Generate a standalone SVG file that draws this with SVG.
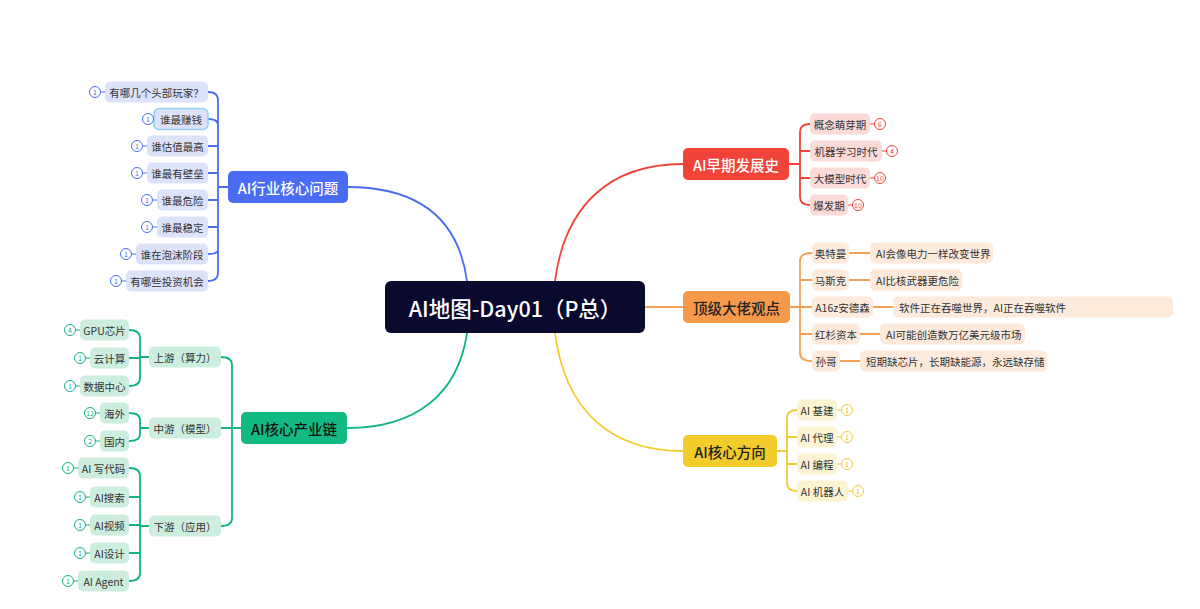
<svg xmlns="http://www.w3.org/2000/svg" width="1200" height="609" viewBox="0 0 1200 609">
<style>
text{font-family:"Noto Sans CJK SC","Liberation Sans",sans-serif;dominant-baseline:central}
.t{font-size:10.5px;fill:#333}
.m{font-size:14.5px;text-anchor:middle;font-weight:500}
.c{text-anchor:middle}
.l{fill:none;stroke-width:1.8;stroke-linecap:round}
.bl{stroke:#4a6cf5}.rd{stroke:#ee4439}.or{stroke:#f6a055}.ye{stroke:#f0cd35}.gr{stroke:#14b57e}
.bf{fill:#dde2fb}.rf{fill:#fcdad8}.of{fill:#fdeadb}.yf{fill:#fcf3d3}.gf{fill:#cdeedf}
.bd{fill:#fff;stroke-width:1}
.bn{font-size:7px;text-anchor:middle}
</style>
<rect width="1200" height="609" fill="#fff"/>
<g id="connectors">
<path class="l bl" d="M467,281 C458,215 415,187 347,187"/>
<path class="l rd" d="M555,281 C565,205 610,164 683,164"/>
<path class="l or" d="M645,307 H683"/>
<path class="l ye" d="M555,333 C565,410 610,451 683,451"/>
<path class="l gr" d="M467,333 C458,395 415,428 347,428"/>
<path class="l bl" d="M228,187 H218 M208,92 Q218,92 218,100 V273 Q218,281 208,281 M208,119 Q218,119 218,125 M208,146 H218 M208,173 H218 M208,200 H218 M208,227 H218 M208,254 Q218,254 218,250"/>
<path class="l rd" d="M789,164 H800 M810,124 Q800,124 800,132 V197 Q800,205 810,205 M810,151 H800 M810,178 H800"/>
<path class="l or" d="M790,307 H800 M812,253 Q800,253 800,261 V353 Q800,361 812,361 M812,280 H800 M812,307 H800 M812,334 H800"/>
<path class="l or" d="M849,253 H870 M849,280 H870 M873,307 H893 M860,334 H880 M840,361 H860"/>
<path class="l ye" d="M777,451 H787 M797,410 Q787,410 787,418 V483 Q787,491 797,491 M797,437 H787 M797,464 H787"/>
<path class="l gr" d="M241,428 H232 M221,357 Q232,357 232,365 V518 Q232,526 221,526 M221,428 H232"/>
<path class="l gr" d="M149,357 H140 M129,330 Q140,330 140,338 V378 Q140,386 129,386 M129,358 H140"/>
<path class="l gr" d="M149,428 H140 M129,413 Q140,413 140,420 V434 Q140,441 129,441"/>
<path class="l gr" d="M149,526 H140 M129,468 Q140,468 140,476 V573 Q140,581 129,581 M129,497 H140 M129,525 H140 M129,553 H140"/>
</g>
<g id="center">
<rect x="385" y="281" width="260" height="52" rx="6" fill="#0a0a2e"/>
<text x="515" y="307" class="c" font-size="21.5" font-weight="500" fill="#fff">AI地图-Day01（P总）</text>
</g>
<g id="n-blue-main"><rect x="228" y="171" width="120" height="32" rx="5" fill="#4a6cf5"/><text x="288" y="187" class="m" fill="#fff">AI行业核心问题</text></g>
<g id="n-red-main"><rect x="683" y="148" width="106" height="32" rx="5" fill="#f0443a"/><text x="736" y="164" class="m" fill="#fff">AI早期发展史</text></g>
<g id="n-orange-main"><rect x="683" y="291" width="107" height="32" rx="5" fill="#f7994a"/><text x="736.5" y="307" class="m" fill="#222">顶级大佬观点</text></g>
<g id="n-yellow-main"><rect x="683" y="435" width="94" height="32" rx="5" fill="#f2cc2b"/><text x="730" y="451" class="m" fill="#222">AI核心方向</text></g>
<g id="n-green-main"><rect x="241" y="412" width="106" height="32" rx="5" fill="#12b982"/><text x="294" y="428" class="m" fill="#111">AI核心产业链</text></g>

<g id="b1"><rect class="bf" x="105" y="81.5" width="103" height="21" rx="5"/><text class="t c" x="156.5" y="92">有哪几个头部玩家？</text><line class="bl" x1="100" y1="92" x2="105" y2="92"/><circle class="bd bl" cx="95" cy="92" r="5.5"/><text class="bn" x="95" y="92" fill="#4a6cf5">1</text></g>
<g id="b2"><rect class="bf" x="154" y="108.5" width="54" height="21" rx="5" stroke="#8fd3f3" stroke-width="1.5"/><text class="t c" x="181" y="119">谁最赚钱</text><line class="bl" x1="153" y1="119" x2="154" y2="119"/><circle class="bd bl" cx="148" cy="119" r="5.5"/><text class="bn" x="148" y="119" fill="#4a6cf5">1</text></g>
<g id="b3"><rect class="bf" x="147" y="135.5" width="61" height="21" rx="5"/><text class="t c" x="177.5" y="146">谁估值最高</text><line class="bl" x1="142" y1="146" x2="147" y2="146"/><circle class="bd bl" cx="137" cy="146" r="5.5"/><text class="bn" x="137" y="146" fill="#4a6cf5">1</text></g>
<g id="b4"><rect class="bf" x="147" y="162.5" width="61" height="21" rx="5"/><text class="t c" x="177.5" y="173">谁最有壁垒</text><line class="bl" x1="142" y1="173" x2="147" y2="173"/><circle class="bd bl" cx="137" cy="173" r="5.5"/><text class="bn" x="137" y="173" fill="#4a6cf5">1</text></g>
<g id="b5"><rect class="bf" x="157" y="189.5" width="51" height="21" rx="5"/><text class="t c" x="182.5" y="200">谁最危险</text><line class="bl" x1="152" y1="200" x2="157" y2="200"/><circle class="bd bl" cx="147" cy="200" r="5.5"/><text class="bn" x="147" y="200" fill="#4a6cf5">1</text></g>
<g id="b6"><rect class="bf" x="157" y="216.5" width="51" height="21" rx="5"/><text class="t c" x="182.5" y="227">谁最稳定</text><line class="bl" x1="152" y1="227" x2="157" y2="227"/><circle class="bd bl" cx="147" cy="227" r="5.5"/><text class="bn" x="147" y="227" fill="#4a6cf5">1</text></g>
<g id="b7"><rect class="bf" x="136" y="243.5" width="72" height="21" rx="5"/><text class="t c" x="172" y="254">谁在泡沫阶段</text><line class="bl" x1="131" y1="254" x2="136" y2="254"/><circle class="bd bl" cx="126" cy="254" r="5.5"/><text class="bn" x="126" y="254" fill="#4a6cf5">1</text></g>
<g id="b8"><rect class="bf" x="126" y="270.5" width="82" height="21" rx="5"/><text class="t c" x="167" y="281">有哪些投资机会</text><line class="bl" x1="121" y1="281" x2="126" y2="281"/><circle class="bd bl" cx="116" cy="281" r="5.5"/><text class="bn" x="116" y="281" fill="#4a6cf5">1</text></g>

<g id="r1"><rect class="rf" x="810" y="113.5" width="60" height="21" rx="5"/><text class="t c" x="840" y="124">概念萌芽期</text><line class="rd" x1="870" y1="124" x2="875" y2="124"/><circle class="bd rd" cx="880" cy="124" r="5.5"/><text class="bn" x="880" y="124" fill="#ee4439">6</text></g>
<g id="r2"><rect class="rf" x="810" y="140.5" width="72" height="21" rx="5"/><text class="t c" x="846" y="151">机器学习时代</text><line class="rd" x1="882" y1="151" x2="887" y2="151"/><circle class="bd rd" cx="892" cy="151" r="5.5"/><text class="bn" x="892" y="151" fill="#ee4439">4</text></g>
<g id="r3"><rect class="rf" x="810" y="167.5" width="60" height="21" rx="5"/><text class="t c" x="840" y="178">大模型时代</text><line class="rd" x1="870" y1="178" x2="875" y2="178"/><circle class="bd rd" cx="880" cy="178" r="5.5"/><text class="bn" x="880" y="178" fill="#ee4439" font-size="6">10</text></g>
<g id="r4"><rect class="rf" x="810" y="194.5" width="38" height="21" rx="5"/><text class="t c" x="829" y="205">爆发期</text><line class="rd" x1="848" y1="205" x2="853" y2="205"/><circle class="bd rd" cx="858" cy="205" r="5.5"/><text class="bn" x="858" y="205" fill="#ee4439" font-size="6">10</text></g>

<g id="o1"><rect class="of" x="812" y="242.5" width="37" height="21" rx="5"/><text class="t c" x="830.5" y="253">奥特曼</text></g>
<g id="o1q"><rect class="of" x="870" y="242.5" width="123" height="21" rx="5"/><text class="t" x="876" y="253">AI会像电力一样改变世界</text></g>
<g id="o2"><rect class="of" x="812" y="269.5" width="37" height="21" rx="5"/><text class="t c" x="830.5" y="280">马斯克</text></g>
<g id="o2q"><rect class="of" x="870" y="269.5" width="92" height="21" rx="5"/><text class="t" x="876" y="280">AI比核武器更危险</text></g>
<g id="o3"><rect class="of" x="812" y="296.5" width="61" height="21" rx="5"/><text class="t c" x="842.5" y="307">A16z安德森</text></g>
<g id="o3q"><rect class="of" x="893" y="296.5" width="280" height="21" rx="5"/><text class="t" x="899" y="307">软件正在吞噬世界，AI正在吞噬软件</text></g>
<g id="o4"><rect class="of" x="812" y="323.5" width="48" height="21" rx="5"/><text class="t c" x="836" y="334">红杉资本</text></g>
<g id="o4q"><rect class="of" x="880" y="323.5" width="145" height="21" rx="5"/><text class="t" x="886" y="334">AI可能创造数万亿美元级市场</text></g>
<g id="o5"><rect class="of" x="812" y="350.5" width="28" height="21" rx="5"/><text class="t c" x="826" y="361">孙哥</text></g>
<g id="o5q"><rect class="of" x="860" y="350.5" width="187" height="21" rx="5"/><text class="t" x="866" y="361">短期缺芯片，长期缺能源，永远缺存储</text></g>

<g id="y1"><rect class="yf" x="797" y="399.5" width="40" height="21" rx="5"/><text class="t c" x="817" y="410">AI 基建</text><line class="ye" x1="837" y1="410" x2="842" y2="410"/><circle class="bd ye" cx="847" cy="410" r="5.5"/><text class="bn" x="847" y="410" fill="#e0b820">1</text></g>
<g id="y2"><rect class="yf" x="797" y="426.5" width="40" height="21" rx="5"/><text class="t c" x="817" y="437">AI 代理</text><line class="ye" x1="837" y1="437" x2="842" y2="437"/><circle class="bd ye" cx="847" cy="437" r="5.5"/><text class="bn" x="847" y="437" fill="#e0b820">1</text></g>
<g id="y3"><rect class="yf" x="797" y="453.5" width="40" height="21" rx="5"/><text class="t c" x="817" y="464">AI 编程</text><line class="ye" x1="837" y1="464" x2="842" y2="464"/><circle class="bd ye" cx="847" cy="464" r="5.5"/><text class="bn" x="847" y="464" fill="#e0b820">1</text></g>
<g id="y4"><rect class="yf" x="797" y="480.5" width="51" height="21" rx="5"/><text class="t c" x="822.5" y="491">AI 机器人</text><line class="ye" x1="848" y1="491" x2="853" y2="491"/><circle class="bd ye" cx="858" cy="491" r="5.5"/><text class="bn" x="858" y="491" fill="#e0b820">1</text></g>

<g id="g1"><rect class="gf" x="149" y="346.5" width="72" height="21" rx="5"/><text class="t c" x="185" y="357">上游（算力）</text></g>
<g id="g2"><rect class="gf" x="149" y="417.5" width="72" height="21" rx="5"/><text class="t c" x="185" y="428">中游（模型）</text></g>
<g id="g3"><rect class="gf" x="149" y="515.5" width="72" height="21" rx="5"/><text class="t c" x="185" y="526">下游（应用）</text></g>

<g id="g1a"><rect class="gf" x="80" y="319.5" width="49" height="21" rx="5"/><text class="t c" x="104.5" y="330">GPU芯片</text><line class="gr" x1="75" y1="330" x2="80" y2="330"/><circle class="bd gr" cx="70" cy="330" r="5.5"/><text class="bn" x="70" y="330" fill="#14b57e">4</text></g>
<g id="g1b"><rect class="gf" x="90" y="347.5" width="39" height="21" rx="5"/><text class="t c" x="109.5" y="358">云计算</text><line class="gr" x1="85" y1="358" x2="90" y2="358"/><circle class="bd gr" cx="80" cy="358" r="5.5"/><text class="bn" x="80" y="358" fill="#14b57e">1</text></g>
<g id="g1c"><rect class="gf" x="80" y="375.5" width="49" height="21" rx="5"/><text class="t c" x="104.5" y="386">数据中心</text><line class="gr" x1="75" y1="386" x2="80" y2="386"/><circle class="bd gr" cx="70" cy="386" r="5.5"/><text class="bn" x="70" y="386" fill="#14b57e">1</text></g>
<g id="g2a"><rect class="gf" x="100" y="402.5" width="29" height="21" rx="5"/><text class="t c" x="114.5" y="413">海外</text><line class="gr" x1="95" y1="413" x2="100" y2="413"/><circle class="bd gr" cx="90" cy="413" r="5.5"/><text class="bn" x="90" y="413" fill="#14b57e" font-size="6">12</text></g>
<g id="g2b"><rect class="gf" x="100" y="430.5" width="29" height="21" rx="5"/><text class="t c" x="114.5" y="441">国内</text><line class="gr" x1="95" y1="441" x2="100" y2="441"/><circle class="bd gr" cx="90" cy="441" r="5.5"/><text class="bn" x="90" y="441" fill="#14b57e">2</text></g>
<g id="g3a"><rect class="gf" x="78" y="457.5" width="51" height="21" rx="5"/><text class="t c" x="103.5" y="468">AI 写代码</text><line class="gr" x1="73" y1="468" x2="78" y2="468"/><circle class="bd gr" cx="68" cy="468" r="5.5"/><text class="bn" x="68" y="468" fill="#14b57e">1</text></g>
<g id="g3b"><rect class="gf" x="90" y="486.5" width="39" height="21" rx="5"/><text class="t c" x="109.5" y="497">AI搜索</text><line class="gr" x1="85" y1="497" x2="90" y2="497"/><circle class="bd gr" cx="80" cy="497" r="5.5"/><text class="bn" x="80" y="497" fill="#14b57e">1</text></g>
<g id="g3c"><rect class="gf" x="90" y="514.5" width="39" height="21" rx="5"/><text class="t c" x="109.5" y="525">AI视频</text><line class="gr" x1="85" y1="525" x2="90" y2="525"/><circle class="bd gr" cx="80" cy="525" r="5.5"/><text class="bn" x="80" y="525" fill="#14b57e">1</text></g>
<g id="g3d"><rect class="gf" x="90" y="542.5" width="39" height="21" rx="5"/><text class="t c" x="109.5" y="553">AI设计</text><line class="gr" x1="85" y1="553" x2="90" y2="553"/><circle class="bd gr" cx="80" cy="553" r="5.5"/><text class="bn" x="80" y="553" fill="#14b57e">1</text></g>
<g id="g3e"><rect class="gf" x="78" y="570.5" width="51" height="21" rx="5"/><text class="t c" x="103.5" y="581">AI Agent</text><line class="gr" x1="73" y1="581" x2="78" y2="581"/><circle class="bd gr" cx="68" cy="581" r="5.5"/><text class="bn" x="68" y="581" fill="#14b57e">1</text></g>
</svg>
